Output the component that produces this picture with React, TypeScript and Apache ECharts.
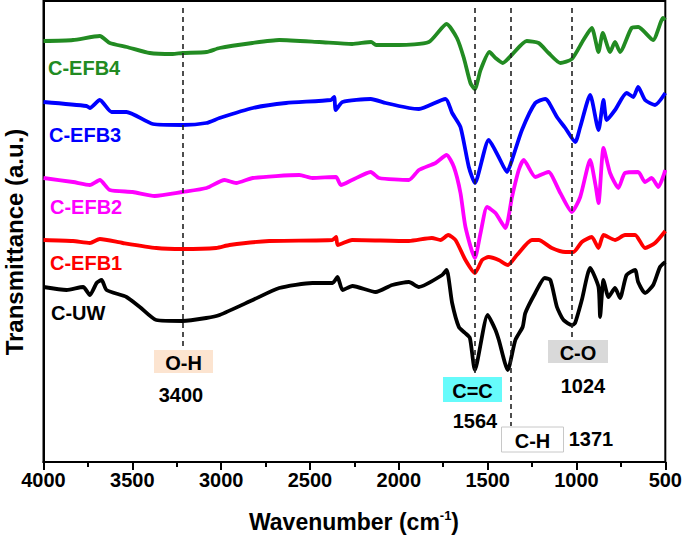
import React, { useEffect, useRef } from "react";
import * as echarts from "echarts";

const FONT = "'Liberation Sans', Arial, Helvetica, sans-serif";

// ---- data (wavenumber in cm-1, transmittance in arbitrary offset units) ----
const uwWave = [4000, 3870, 3777, 3739, 3701, 3673, 3645, 3533, 3458, 3365, 3217, 3084, 3009, 2822, 2673, 2486, 2373, 2345, 2317, 2261, 2130, 2037, 1943, 1887, 1756, 1731, 1700, 1662, 1627, 1600, 1572, 1500, 1456, 1437, 1387, 1344, 1303, 1288, 1232, 1179, 1147, 1110, 1073, 1026, 1008, 970, 923, 876, 867, 848, 820, 783, 755, 718, 670, 653, 614, 568, 530, 500];
const uwT = [175, 172, 175, 167, 179, 182, 172, 165, 155, 142, 141, 144, 147, 162, 174, 179, 179, 185, 172, 176, 170, 177, 180, 175, 187, 192, 159, 135, 129, 124, 92, 147, 132, 122, 92, 122, 135, 149, 169, 184, 182, 155, 142, 137, 139, 162, 194, 175, 145, 182, 165, 174, 164, 187, 192, 180, 169, 177, 195, 200];

const efb1Wave = [4000, 3834, 3739, 3683, 3554, 3365, 3217, 3028, 2953, 2729, 2375, 2353, 2344, 2263, 1943, 1814, 1765, 1722, 1681, 1625, 1572, 1531, 1494, 1438, 1386, 1335, 1251, 1213, 1139, 1063, 1017, 970, 914, 876, 848, 783, 727, 670, 614, 558, 500];
const efb1T = [222, 221, 219, 223, 219, 214, 213, 214, 217, 221, 222, 225, 217, 222, 221, 224, 222, 227, 222, 202, 189, 202, 205, 202, 197, 207, 222, 222, 214, 210, 210, 220, 225, 214, 227, 222, 227, 227, 214, 219, 231];

const efb2Wave = [4000, 3834, 3739, 3683, 3627, 3498, 3374, 3217, 3082, 2981, 2916, 2822, 2560, 2487, 2354, 2326, 2263, 2158, 2111, 1943, 1887, 1793, 1731, 1690, 1653, 1625, 1572, 1540, 1503, 1456, 1400, 1363, 1325, 1297, 1232, 1176, 1157, 1091, 1026, 979, 923, 893, 876, 848, 811, 764, 727, 653, 614, 577, 539, 500];
const efb2T = [284, 280, 277, 282, 272, 270, 266, 270, 274, 282, 279, 284, 287, 284, 285, 277, 282, 290, 284, 282, 292, 299, 307, 295, 269, 235, 204, 229, 255, 249, 234, 265, 292, 302, 285, 289, 290, 269, 250, 265, 302, 277, 259, 314, 289, 274, 289, 290, 280, 284, 275, 292];

const efb3Wave = [4000, 3758, 3739, 3683, 3617, 3533, 3384, 3217, 3084, 3009, 2822, 2635, 2382, 2364, 2355, 2317, 2158, 2074, 1943, 1887, 1737, 1700, 1653, 1606, 1572, 1494, 1438, 1391, 1363, 1307, 1232, 1176, 1157, 1110, 1063, 1007, 979, 923, 876, 848, 830, 783, 718, 680, 653, 614, 558, 500];
const efb3T = [360, 356, 354, 362, 350, 350, 338, 337, 339, 344, 354, 359, 362, 365, 352, 360, 363, 359, 354, 353, 363, 349, 335, 295, 279, 322, 305, 290, 302, 332, 359, 363, 360, 345, 334, 320, 335, 367, 332, 362, 342, 352, 369, 365, 375, 362, 357, 369];

const efb4Wave = [4000, 3834, 3683, 3627, 3531, 3402, 3273, 3217, 3082, 3009, 2824, 2673, 2448, 2263, 2156, 2128, 1999, 1831, 1731, 1673, 1634, 1597, 1572, 1540, 1490, 1456, 1415, 1365, 1280, 1213, 1157, 1091, 1026, 961, 914, 876, 852, 811, 783, 755, 690, 652, 569, 512, 500];
const efb4T = [421, 422, 426, 419, 415, 409, 408, 409, 410, 414, 419, 422, 420, 418, 420, 417, 417, 420, 438, 424, 404, 379, 373, 392, 410, 404, 399, 407, 421, 419, 409, 399, 403, 422, 434, 410, 429, 410, 420, 410, 434, 435, 422, 444, 442];

const sampleNames = ["C-UW", "C-EFB1", "C-EFB2", "C-EFB3", "C-EFB4"];
const sampleColors = ["#000000", "#ff0000", "#ff00ff", "#0000ff", "#228b22"];

// band markers
const bandNames = ["O-H", "C=C", "C-H", "C-O"];
const bandNumbers = ["3400", "1564", "1371", "1024"];
const markerWaves = [3219, 1570, 1371, 1024];
const markerTop = 454;
const markerBottoms = [112, 89, 36, 122];

const xTicks = { min: 500, max: 4000, step: 500 };

export default function App() {
  const ref = useRef<HTMLDivElement>(null);

  useEffect(() => {
    const chart = echarts.init(ref.current!, null, { renderer: "svg" });
    const waves = [uwWave, efb1Wave, efb2Wave, efb3Wave, efb4Wave];
    const vals = [uwT, efb1T, efb2T, efb3T, efb4T];

    const series: any[] = sampleNames.map((name, i) => ({
      name,
      type: "line",
      data: waves[i].map((w, j) => [w, vals[i][j]]),
      showSymbol: false,
      smooth: 0.2,
      lineStyle: { color: sampleColors[i], width: 3.8 },
      itemStyle: { color: sampleColors[i] },
      z: 3,
    }));
    series[0].markLine = {
      silent: true,
      symbol: ["none", "none"],
      label: { show: false },
      lineStyle: { type: [5, 4], color: "#222", width: 1.6 },
      data: markerWaves.map((w, i) => [
        { coord: [w, markerTop] },
        { coord: [w, markerBottoms[i]] },
      ]),
    };

    // label positions (pixel) for sample names
    const nameLabelPos = [
      [51, 313],
      [50, 263],
      [50, 207],
      [49, 135],
      [48, 68],
    ];

    const boxes = [
      { x: 154, y: 350, w: 59, h: 23, fill: "#fce4d0", stroke: "none" },
      { x: 443, y: 377, w: 59, h: 25, fill: "#66fbfb", stroke: "none" },
      { x: 501.5, y: 427, w: 62, h: 25, fill: "#ffffff", stroke: "#c8c8c8" },
      { x: 548, y: 340, w: 60, h: 23, fill: "#d9d9d9", stroke: "none" },
    ];
    const numberPos = [
      [181, 395],
      [475, 421],
      [591, 439],
      [583, 386],
    ];

    const graphic: any[] = [];
    sampleNames.forEach((n, i) => {
      graphic.push({
        type: "text",
        x: nameLabelPos[i][0],
        y: nameLabelPos[i][1],
        style: {
          text: n,
          fill: sampleColors[i],
          font: `bold 20px ${FONT}`,
          align: "left",
          verticalAlign: "middle",
        },
        z: 10,
      });
    });
    bandNames.forEach((b, i) => {
      const bx = boxes[i];
      graphic.push({
        type: "rect",
        shape: { x: bx.x, y: bx.y, width: bx.w, height: bx.h },
        style: { fill: bx.fill, stroke: bx.stroke, lineWidth: 1 },
        z: 9,
      });
      graphic.push({
        type: "text",
        x: bx.x + bx.w / 2,
        y: bx.y + bx.h / 2 + 1,
        style: {
          text: b,
          fill: "#000",
          font: `bold 20px ${FONT}`,
          align: "center",
          verticalAlign: "middle",
        },
        z: 10,
      });
      graphic.push({
        type: "text",
        x: numberPos[i][0],
        y: numberPos[i][1],
        style: {
          text: bandNumbers[i],
          fill: "#000",
          font: `bold 20px ${FONT}`,
          align: "center",
          verticalAlign: "middle",
        },
        z: 10,
      });
    });
    // axis titles
    graphic.push({
      type: "text",
      x: 354,
      y: 522,
      style: {
        text: "{a|Wavenumber (cm}{s|-1}{a|)}",
        fill: "#000",
        align: "center",
        verticalAlign: "middle",
        rich: {
          a: { fontSize: 23, fontWeight: "bold", fontFamily: FONT, lineHeight: 26, fill: "#000" },
          s: { fontSize: 13, fontWeight: "bold", fontFamily: FONT, verticalAlign: "top", lineHeight: 13, fill: "#000" },
        },
      },
      z: 10,
    });
    graphic.push({
      type: "text",
      x: 14,
      y: 242,
      rotation: Math.PI / 2,
      style: {
        text: "Transmittance (a.u.)",
        fill: "#000",
        font: `bold 24px ${FONT}`,
        align: "center",
        verticalAlign: "middle",
      },
      z: 10,
    });

    chart.setOption({
      animation: false,
      backgroundColor: "#ffffff",
      grid: {
        left: 43.5,
        right: 18,
        top: 1,
        bottom: 76,
        show: true,
        borderColor: "#000",
        borderWidth: 2,
        backgroundColor: "transparent",
        containLabel: false,
      },
      xAxis: {
        type: "value",
        min: xTicks.min,
        max: xTicks.max,
        interval: xTicks.step,
        inverse: true,
        axisLine: { show: true, onZero: false, lineStyle: { color: "#000", width: 2 } },
        axisTick: { show: true, inside: false, length: 8, lineStyle: { color: "#000", width: 2 } },
        minorTick: { show: true, splitNumber: 2, length: 5, lineStyle: { color: "#000", width: 2 } },
        axisLabel: {
          color: "#000",
          fontSize: 20,
          fontWeight: "bold",
          fontFamily: FONT,
          margin: 8,
          showMinLabel: true,
          showMaxLabel: true,
          formatter: (v: number) => String(Math.round(v)),
        },
        splitLine: { show: false },
      },
      yAxis: {
        type: "value",
        min: 0,
        max: 461,
        axisLine: { show: true, onZero: false, lineStyle: { color: "#000", width: 2 } },
        axisTick: { show: false },
        axisLabel: { show: false },
        splitLine: { show: false },
      },
      series,
      graphic,
    });
    return () => chart.dispose();
  }, []);

  return (
    <div
      ref={ref}
      style={{ position: "fixed", left: 0, top: 0, width: 685, height: 538, background: "#fff" }}
    />
  );
}
